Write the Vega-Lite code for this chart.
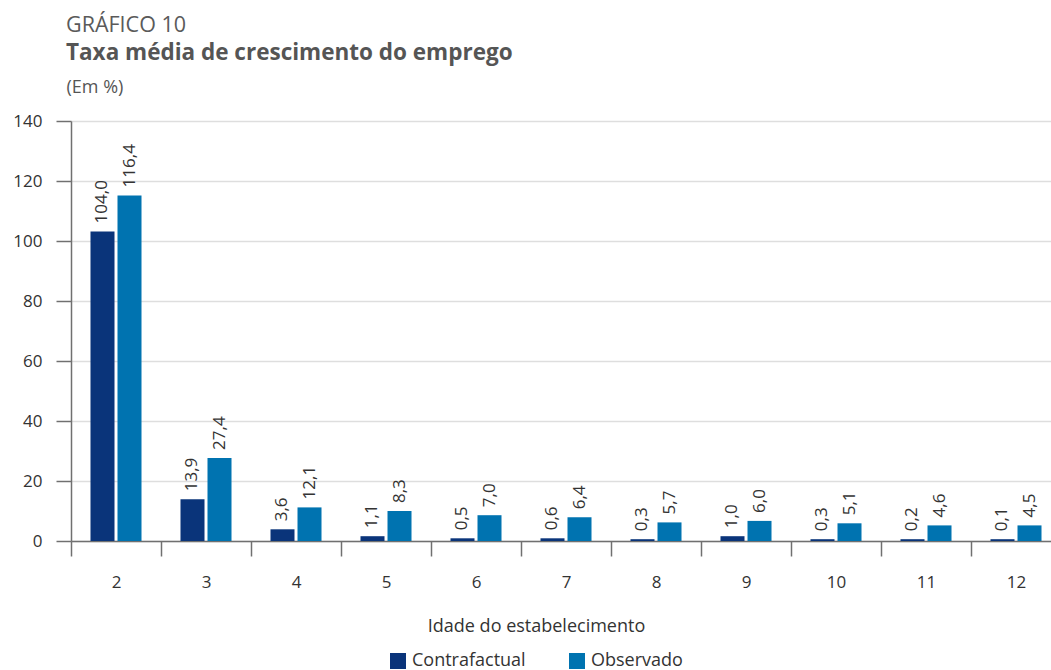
{
  "$schema": "https://vega.github.io/schema/vega-lite/v6.json",
  "autosize": {"type": "none"},
  "width": 980,
  "height": 420,
  "padding": {"left": 71, "top": 121, "right": 0, "bottom": 129},
  "background": "white",
  "title": {
    "text": "GRÁFICO 10",
    "subtitle": "Taxa média de crescimento do emprego",
    "anchor": "start",
    "frame": "group",
    "dx": -5,
    "offset": 14,
    "font": "Open Sans",
    "fontSize": 21.5,
    "fontWeight": "normal",
    "color": "#5a5a5a",
    "subtitleFont": "Open Sans",
    "subtitleFontSize": 22.5,
    "subtitleFontWeight": "bold",
    "subtitleColor": "#555555",
    "subtitlePadding": 5
  },
  "config": {
    "view": {"stroke": null},
    "font": "Open Sans",
    "axis": {
      "labelFont": "Open Sans",
      "titleFont": "Open Sans",
      "labelColor": "#333333",
      "titleColor": "#333333",
      "domainColor": "#707070",
      "tickColor": "#707070",
      "gridColor": "#dedede",
      "gridWidth": 1.5
    }
  },
  "data": {
    "values": [
      {"idade": 2, "serie": "Contrafactual", "valor": 103.2, "rotulo": "104,0"},
      {"idade": 2, "serie": "Observado", "valor": 115.2, "rotulo": "116,4"},
      {"idade": 3, "serie": "Contrafactual", "valor": 13.9, "rotulo": "13,9"},
      {"idade": 3, "serie": "Observado", "valor": 27.7, "rotulo": "27,4"},
      {"idade": 4, "serie": "Contrafactual", "valor": 3.9, "rotulo": "3,6"},
      {"idade": 4, "serie": "Observado", "valor": 11.2, "rotulo": "12,1"},
      {"idade": 5, "serie": "Contrafactual", "valor": 1.6, "rotulo": "1,1"},
      {"idade": 5, "serie": "Observado", "valor": 10.0, "rotulo": "8,3"},
      {"idade": 6, "serie": "Contrafactual", "valor": 0.9, "rotulo": "0,5"},
      {"idade": 6, "serie": "Observado", "valor": 8.6, "rotulo": "7,0"},
      {"idade": 7, "serie": "Contrafactual", "valor": 0.9, "rotulo": "0,6"},
      {"idade": 7, "serie": "Observado", "valor": 7.9, "rotulo": "6,4"},
      {"idade": 8, "serie": "Contrafactual", "valor": 0.6, "rotulo": "0,3"},
      {"idade": 8, "serie": "Observado", "valor": 6.2, "rotulo": "5,7"},
      {"idade": 9, "serie": "Contrafactual", "valor": 1.6, "rotulo": "1,0"},
      {"idade": 9, "serie": "Observado", "valor": 6.7, "rotulo": "6,0"},
      {"idade": 10, "serie": "Contrafactual", "valor": 0.6, "rotulo": "0,3"},
      {"idade": 10, "serie": "Observado", "valor": 5.9, "rotulo": "5,1"},
      {"idade": 11, "serie": "Contrafactual", "valor": 0.6, "rotulo": "0,2"},
      {"idade": 11, "serie": "Observado", "valor": 5.2, "rotulo": "4,6"},
      {"idade": 12, "serie": "Contrafactual", "valor": 0.6, "rotulo": "0,1"},
      {"idade": 12, "serie": "Observado", "valor": 5.2, "rotulo": "4,5"}
    ]
  },
  "encoding": {
    "x": {
      "field": "idade",
      "type": "ordinal",
      "scale": {"range": [0, 990], "paddingInner": 0, "paddingOuter": 0},
      "axis": {
        "title": "Idade do estabelecimento",
        "titleFontSize": 18,
        "titleFontWeight": "normal",
        "titleX": 465,
        "titleY": 85,
        "titleBaseline": "middle",
        "titleAlign": "center",
        "labelAngle": 0,
        "labelFontSize": 17,
        "labelPadding": 18,
        "tickBand": "extent",
        "tickSize": 15,
        "tickWidth": 1.5,
        "domainWidth": 1.5
      }
    },
    "xOffset": {"field": "serie", "type": "nominal", "scale": {"paddingInner": 0.111, "paddingOuter": 0.722}},
    "y": {
      "field": "valor",
      "type": "quantitative",
      "scale": {"domain": [0, 140], "nice": false},
      "axis": {
        "values": [0, 20, 40, 60, 80, 100, 120, 140],
        "title": "(Em %)",
        "titleAngle": 0,
        "titleAlign": "left",
        "titleBaseline": "alphabetic",
        "titleX": -5,
        "titleY": -29,
        "titleFontSize": 18,
        "titleFontWeight": "normal",
        "titleColor": "#555555",
        "labelFontSize": 17,
        "labelPadding": 14,
        "tickSize": 15,
        "tickWidth": 1.5,
        "domainWidth": 1.5,
        "grid": true
      }
    }
  },
  "layer": [
    {
      "mark": {"type": "bar"},
      "encoding": {
        "color": {
          "field": "serie",
          "type": "nominal",
          "scale": {"domain": ["Contrafactual", "Observado"], "range": ["#0a347a", "#0073b0"]},
          "legend": {
            "title": null,
            "orient": "none",
            "legendX": 318,
            "legendY": 531,
            "direction": "horizontal",
            "symbolType": "square",
            "symbolSize": 256,
            "symbolStrokeWidth": 0,
            "labelFont": "Open Sans",
            "labelFontSize": 18,
            "labelColor": "#333333",
            "labelOffset": 5,
            "columnPadding": 42
          }
        }
      }
    },
    {
      "mark": {"type": "text", "angle": 270, "align": "left", "baseline": "middle", "dx": 8, "fontSize": 17, "font": "Open Sans", "color": "#333333"},
      "encoding": {"text": {"field": "rotulo"}}
    }
  ]
}
